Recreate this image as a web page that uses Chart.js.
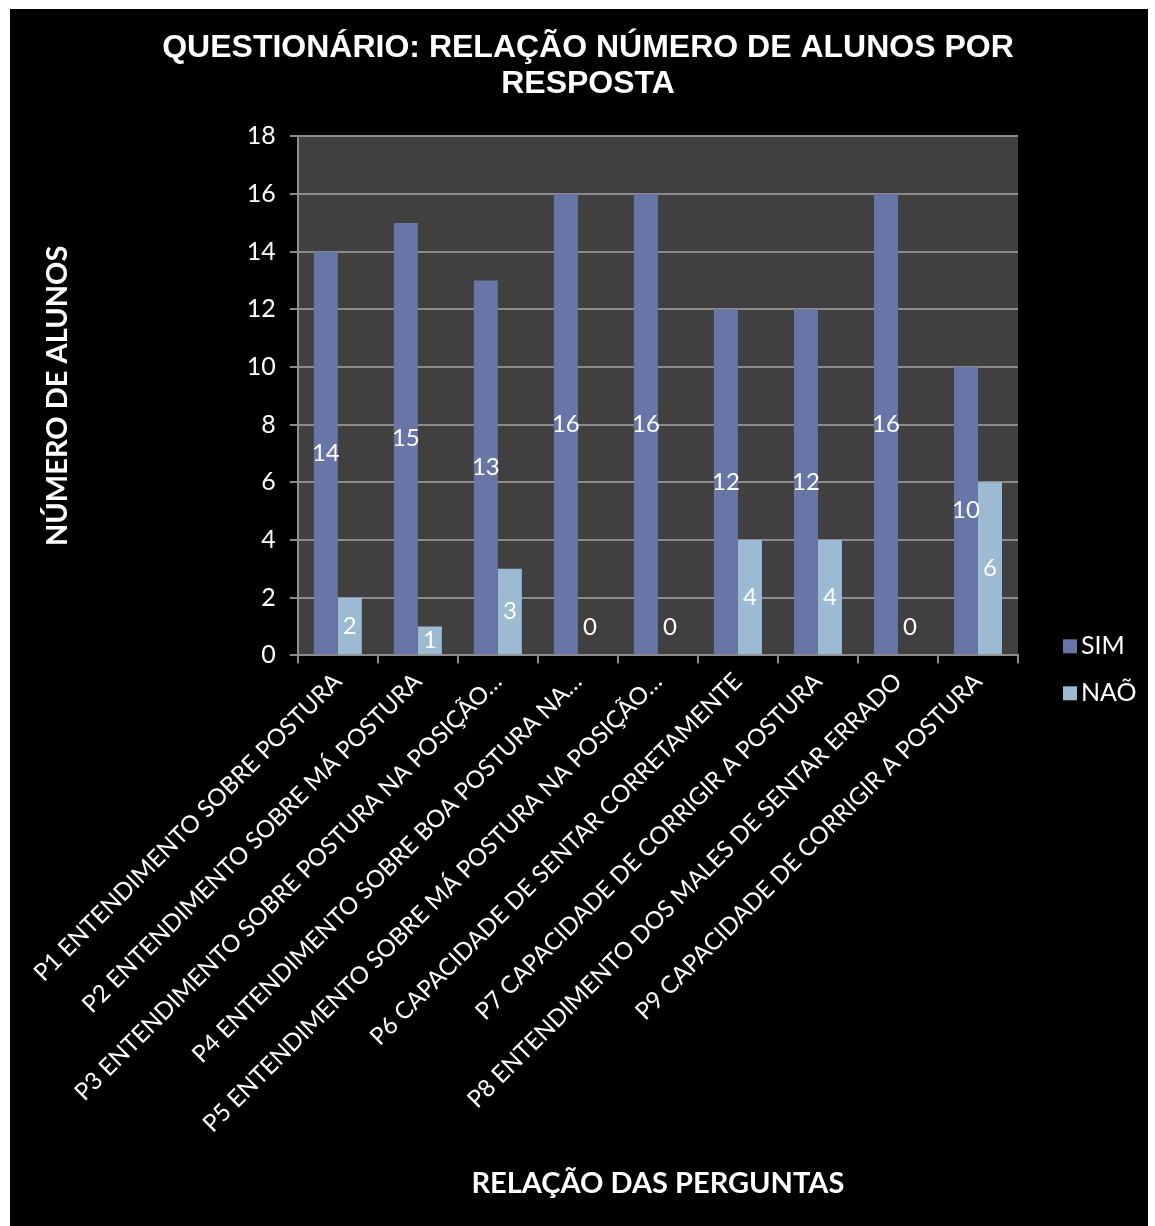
<!DOCTYPE html>
<html>
<head>
<meta charset="utf-8">
<script src="https://cdn.jsdelivr.net/npm/chart.js@4.4.1/dist/chart.umd.min.js"></script>
<style>
  body { margin: 0; background: #fff; }
  #wrap { position: absolute; left: 10px; top: 9px; width: 1138px; height: 1217px; background: #000; }
</style>
</head>
<body>
<div id="wrap"><canvas id="respostasChart"></canvas></div>
<script>
// perguntas do questionário
const perguntas = [
    'P1 ENTENDIMENTO SOBRE POSTURA',
    'P2 ENTENDIMENTO SOBRE MÁ POSTURA',
    'P3 ENTENDIMENTO SOBRE POSTURA NA POSIÇÃO…',
    'P4 ENTENDIMENTO SOBRE BOA POSTURA NA…',
    'P5 ENTENDIMENTO SOBRE MÁ POSTURA NA POSIÇÃO…',
    'P6 CAPACIDADE DE SENTAR CORRETAMENTE',
    'P7 CAPACIDADE DE CORRIGIR A POSTURA',
    'P8 ENTENDIMENTO DOS MALES DE SENTAR ERRADO',
    'P9 CAPACIDADE DE CORRIGIR A POSTURA'
];
const sim = [14, 15, 13, 16, 16, 12, 12, 16, 10];
const nao = [2, 1, 3, 0, 0, 4, 4, 0, 6];
const yTicks = [0, 2, 4, 6, 8, 10, 12, 14, 16, 18];

const labelFont = 'Lato, "Noto Sans", sans-serif';

// fundo cinza da área do gráfico
const plotBackground = {
    id: 'plotBackground',
    beforeDraw(chart) {
        const { ctx, chartArea } = chart;
        ctx.save();
        ctx.fillStyle = '#404040';
        ctx.fillRect(chartArea.left, chartArea.top, chartArea.right - chartArea.left, chartArea.bottom - chartArea.top);
        ctx.restore();
    }
};

// valores dentro das barras
const barValues = {
    id: 'barValues',
    afterDatasetsDraw(chart) {
        const ctx = chart.ctx;
        ctx.save();
        ctx.fillStyle = '#fff';
        ctx.font = '24px ' + labelFont;
        ctx.textAlign = 'center';
        ctx.textBaseline = 'middle';
        chart.data.datasets.forEach((ds, i) => {
            chart.getDatasetMeta(i).data.forEach((bar, j) => {
                const v = ds.data[j];
                const y = v === 0 ? bar.base - 28 : (bar.y + bar.base) / 2;
                ctx.fillText(String(v), bar.x, y);
            });
        });
        ctx.restore();
    }
};

// legenda à direita (o espaço é reservado pela legenda padrão vazia)
const sideLegend = {
    id: 'sideLegend',
    afterDraw(chart) {
        const { ctx, chartArea } = chart;
        ctx.save();
        ctx.font = '25px ' + labelFont;
        ctx.textBaseline = 'middle';
        chart.data.datasets.forEach((ds, i) => {
            const x = chartArea.right + 45;
            const y = chartArea.bottom - 9 + i * 47;
            ctx.fillStyle = ds.backgroundColor;
            ctx.fillRect(x, y - 7, 14, 14);
            ctx.fillStyle = '#fff';
            ctx.fillText(ds.label, x + 18, y);
        });
        ctx.restore();
    }
};

const ctx = document.getElementById('respostasChart').getContext('2d');
new Chart(ctx, {
    type: 'bar',
    data: {
        labels: perguntas,
        datasets: [
            { label: 'SIM', data: sim, backgroundColor: '#6875a7', borderWidth: 0 },
            { label: 'NAÕ', data: nao, backgroundColor: '#9cbad2', borderWidth: 0 }
        ]
    },
    options: {
        responsive: true,
        maintainAspectRatio: false,
        animation: false,
        layout: { padding: { left: 23, right: 5, top: 0, bottom: 25 } },
        datasets: { bar: { categoryPercentage: 0.6, barPercentage: 1.0 } },
        scales: {
            x: {
                grid: { display: true, drawOnChartArea: false, color: '#8c8c8c', lineWidth: 2, tickLength: 8 },
                border: { color: '#8c8c8c', width: 2 },
                ticks: { color: '#fff', font: { family: labelFont, size: 24 }, maxRotation: 45, minRotation: 45, autoSkip: false, padding: 4 },
                title: { display: true, text: 'RELAÇÃO DAS PERGUNTAS', color: '#fff', font: { family: labelFont, size: 29, weight: 'bold' }, padding: { top: 24, bottom: 0 } }
            },
            y: {
                min: 0,
                max: 18,
                afterBuildTicks(axis) { axis.ticks = yTicks.map(v => ({ value: v })); },
                grid: { color: '#8c8c8c', lineWidth: 2, tickLength: 8 },
                border: { color: '#8c8c8c', width: 2 },
                ticks: { color: '#fff', font: { family: labelFont, size: 25 }, padding: 14 },
                title: { display: true, text: 'NÚMERO DE ALUNOS', color: '#fff', font: { family: labelFont, size: 29, weight: 'bold' }, padding: { top: 7, bottom: 158 } }
            }
        },
        plugins: {
            legend: { display: true, position: 'right', labels: { generateLabels: () => [], padding: 115 } },
            tooltip: { enabled: false },
            title: {
                display: true,
                text: ['QUESTIONÁRIO: RELAÇÃO NÚMERO DE ALUNOS POR', 'RESPOSTA'],
                color: '#fff',
                font: { family: '"Liberation Sans", Arial, sans-serif', size: 32, weight: 'bold', lineHeight: 1.1 },
                padding: { top: 22, bottom: 35 }
            }
        }
    },
    plugins: [plotBackground, barValues, sideLegend]
});
</script>
</body>
</html>
